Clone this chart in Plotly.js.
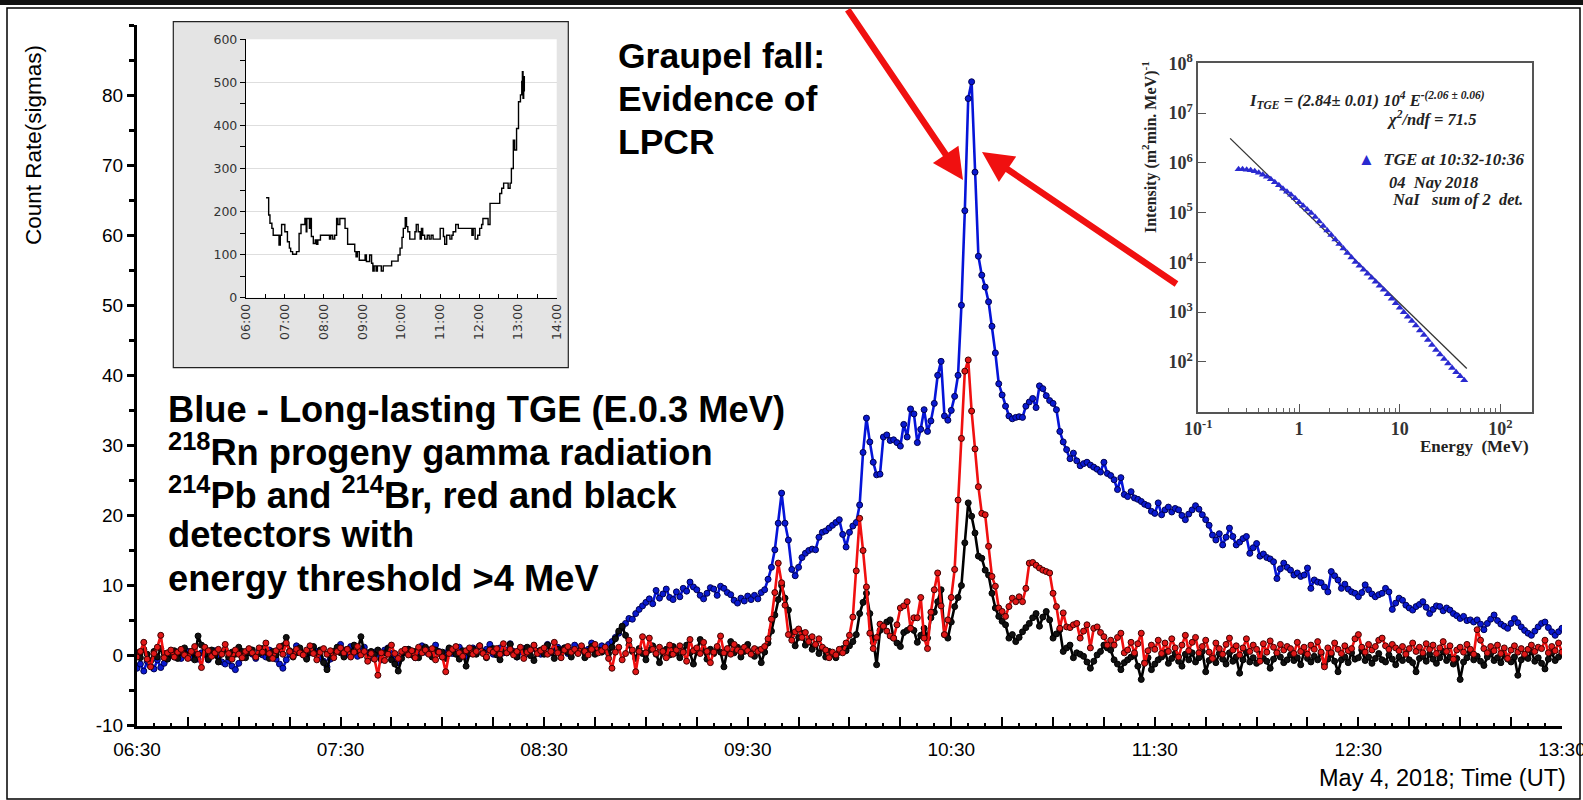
<!DOCTYPE html>
<html>
<head>
<meta charset="utf-8">
<script src="https://cdn.plot.ly/plotly-3.0.1.min.js"></script>
<style>html,body{margin:0;padding:0;background:#fff;}#chart{width:1583px;height:800px;}</style>
</head>
<body>
<div id="chart"></div>
<script>
// ---------------- main series: one value per minute from 06:30 to 13:30 (sigmas) ----------------
const blueSigma = [
-1.8,-1.2,-2.2,-0.8,-1.5,-1.9,-0.6,-1.7,-1.1,-0.4,
0.3,-0.2,0.5,-0.4,0.1,0.6,-0.3,0.2,-0.5,0.4,
0.1,-0.6,0.3,0.7,-0.2,-0.9,-1.2,-0.7,-1.5,-2.0,
-1.1,-0.3,0.4,0.9,0.2,-0.4,0.6,0.1,-0.2,0.8,
0.3,-0.5,-1.2,-1.8,-0.6,0.2,0.5,1.4,0.7,0.1,
-0.3,0.4,1.2,0.6,-0.2,-0.8,-1.6,-0.5,0.3,0.9,
1.6,0.8,0.2,1.3,0.5,-0.1,0.7,1.2,0.4,-0.3,
0.5,0.2,-0.6,0.8,1.1,0.3,-0.4,-1.0,0.2,0.6,
0.9,0.1,-0.3,0.6,1.4,0.5,0.8,0.2,1.5,0.6,
-0.2,0.4,1.0,0.3,0.7,1.2,0.5,-0.1,0.6,1.1,
0.3,1.3,0.5,0.9,1.6,0.2,0.7,1.1,0.4,0.8,
1.7,0.6,-0.2,0.5,1.0,0.3,0.8,1.4,0.6,0.2,
0.9,1.6,0.4,0.7,1.2,0.5,1.1,0.3,0.8,1.5,
0.6,1.2,0.4,0.9,1.8,1.1,0.7,1.4,0.9,1.6,
2.0,2.6,3.2,4.0,4.6,5.3,5.2,6.0,6.6,7.1,7.6,8.1,7.4,9.3,8.2,8.8,
9.5,8.3,8.0,9.1,8.4,9.6,9.2,10.5,9.8,9.4,8.6,8.1,8.9,9.7,9.5,8.6,9.9,9.6,9.0,8.7,7.9,7.5,8.2,7.8,8.5,8.0,8.6,8.1,9.0,9.4,10.9,
12.6,15.1,18.9,23.2,18.9,16.5,12.3,11.4,12.6,14.0,14.6,15.0,15.2,15.1,16.9,17.6,17.8,18.2,18.6,19.0,19.4,17.3,15.5,17.6,18.5,
19.0,21.5,29.0,33.9,30.5,27.6,25.8,25.9,31.2,31.5,
30.7,30.8,30.4,29.9,33.0,31.2,35.2,34.5,30.4,32.3,
35.1,32.0,33.5,36.0,40.0,42.0,34.2,33.6,35.0,37.0,
40.0,50.0,63.5,79.5,81.9,69.0,57.0,54.3,52.6,50.5,
47.0,43.2,38.8,37.2,35.6,34.2,33.8,34.0,34.1,34.0,
35.6,36.2,36.7,35.4,38.5,38.1,37.1,36.4,36.0,35.1,
32.0,30.5,29.4,28.1,28.9,27.8,27.1,27.4,27.6,27.2,
26.9,26.6,26.2,27.6,26.0,25.7,25.1,23.7,25.4,23.0,
22.7,23.4,22.5,22.3,22.0,21.6,21.4,20.6,20.3,21.8,
20.1,20.8,21.2,20.5,21.0,20.8,20.0,19.4,20.2,20.8,
21.4,20.9,20.1,19.4,18.6,17.2,16.5,17.4,15.8,16.9,
18.2,17.0,15.8,16.2,16.7,17.0,14.6,15.4,16.0,14.2,
14.5,14.0,13.8,13.4,11.0,12.4,13.2,12.6,12.2,11.5,
11.8,11.3,11.5,12.5,9.6,10.8,10.5,10.4,9.8,9.1,
12.0,11.4,10.8,9.6,10.2,9.5,9.1,8.9,8.4,9.0,
10.1,9.4,8.8,8.4,8.7,8.9,9.6,9.1,6.6,7.5,
8.2,7.9,7.2,6.8,6.5,7.0,7.3,7.7,6.9,6.0,
6.6,7.1,7.0,6.4,6.8,6.5,6.0,5.7,5.3,5.6,
5.0,5.1,4.8,5.1,4.5,3.7,4.6,5.2,5.8,5.0,
4.5,4.2,3.9,4.6,5.3,4.7,4.1,3.6,3.2,2.9,
3.5,4.1,4.6,4.8,4.0,3.4,2.9,3.4,3.9
];
const redSigma = [
-0.2,0.6,1.9,-0.5,-1.6,0.3,1.2,2.9,-0.3,0.4,
0.8,-0.2,0.5,0.9,0.1,-0.4,0.6,1.3,0.2,-1.7,
1.2,0.7,-0.1,0.4,0.9,0.2,1.6,0.3,-0.5,0.8,
0.2,-0.3,0.6,1.0,0.4,-0.2,1.1,0.5,1.8,0.3,
-0.4,0.7,1.3,0.2,1.8,0.6,-0.1,0.9,0.4,0.1,
0.8,1.4,0.3,-0.6,0.5,1.0,0.2,0.7,-0.3,0.6,
1.1,0.4,0.9,-0.2,0.5,1.3,0.1,0.6,-0.8,0.3,
-0.5,-2.8,0.4,-0.7,0.2,1.5,0.3,-0.4,0.6,0.9,
0.1,0.7,-0.3,1.2,0.4,0.8,0.2,1.0,-0.6,0.5,
-0.2,-2.3,0.3,0.9,1.3,0.4,-0.1,0.7,1.1,0.2,
0.6,1.4,0.3,-0.2,0.8,0.5,1.0,0.2,1.7,0.4,
0.9,0.1,0.6,1.2,-0.4,0.5,0.8,1.5,0.3,0.7,
1.1,0.2,0.6,1.9,0.4,-0.3,0.8,1.3,0.5,0.9,
0.3,1.4,0.6,0.1,0.9,1.6,0.4,0.7,1.2,-0.4,
-1.8,0.5,1.2,-0.6,0.3,2.2,0.8,-2.3,0.6,2.7,
0.4,2.5,0.9,0.3,1.2,0.6,-0.3,1.5,0.2,0.8,
1.4,0.5,-0.8,2.3,0.7,1.1,0.3,1.9,0.6,-1.0,
0.5,1.3,2.8,0.4,1.0,0.2,1.6,0.8,0.5,1.2,
0.7,0.2,1.0,0.6,0.9,1.3,2.4,5.2,9.0,13.2,
10.4,7.2,3.0,2.2,3.4,3.8,2.6,3.3,2.0,2.7,
1.6,2.4,1.2,0.8,-0.3,0.5,0.1,0.9,0.4,1.8,
2.9,5.5,12.1,19.6,15.0,9.8,3.2,1.0,2.6,4.5,
4.2,3.5,2.8,2.5,4.4,6.8,7.1,7.7,3.9,5.4,
5.4,8.3,2.5,1.0,6.2,9.4,11.8,7.1,3.0,5.1,
8.3,12.3,22.2,31.0,40.6,42.2,34.9,29.5,24.1,20.3,
20.1,15.6,11.3,9.9,6.8,6.3,5.6,7.0,8.2,7.7,
8.4,7.7,9.6,13.2,13.3,12.9,12.5,12.2,12.0,11.8,
8.9,7.0,3.9,6.1,4.1,4.0,4.4,4.6,2.5,3.5,
4.4,1.1,3.9,4.1,3.3,2.7,1.5,2.2,1.5,2.6,
3.2,0.4,0.8,1.9,0.4,1.7,3.2,-1.1,0.7,1.5,
0.9,2.2,0.3,1.8,0.6,2.4,1.1,-0.2,1.5,2.9,
0.7,1.9,2.6,0.4,1.3,2.2,0.5,-0.4,1.8,1.0,
0.2,1.6,2.5,0.8,1.4,0.1,1.1,2.4,0.6,1.5,
0.9,-0.8,1.7,0.5,2.1,1.2,0.4,1.6,0.8,1.3,
1.0,0.3,1.9,0.6,1.2,0.2,1.5,0.9,2.0,0.5,
-1.6,1.1,0.4,1.8,0.9,0.3,1.4,0.7,1.0,2.4,
3.0,1.2,0.5,1.6,0.8,1.3,2.2,2.5,1.4,0.9,
1.6,1.1,0.7,1.3,0.2,1.0,1.8,0.6,1.2,0.4,
1.7,0.9,1.5,0.3,1.1,2.0,0.6,1.4,-0.5,0.8,
1.2,0.5,1.6,0.9,0.2,3.7,2.2,1.0,0.4,1.3,
0.7,1.5,0.3,1.1,-0.4,0.8,1.4,0.5,1.0,0.2,
0.9,1.5,0.6,1.2,1.0,2.2,0.4,1.3,0.7,1.8,0.5
];
const blackSigma = [
0.4,-0.3,0.9,0.2,-0.8,0.6,-0.2,1.0,0.3,-0.5,
0.2,0.7,-0.4,0.5,1.1,0.0,0.6,-0.6,2.8,1.5,
0.3,-0.5,0.8,0.1,-0.9,0.4,0.9,-0.2,0.5,0.2,
1.2,0.6,-0.3,0.4,0.8,-0.1,0.3,1.0,0.5,-0.4,
0.6,0.1,0.9,1.4,2.6,0.7,-0.2,0.4,1.1,0.3,
-0.5,0.5,1.3,0.2,0.8,-1.0,-2.0,0.1,0.6,1.2,
0.4,-0.2,0.9,0.3,1.5,0.7,2.7,0.5,-0.3,0.6,
0.2,0.8,-0.5,0.4,1.0,-0.6,-1.2,-2.2,-0.4,0.5,
0.9,0.1,0.6,-0.3,0.7,1.2,0.4,-0.2,0.8,0.3,
0.5,-0.4,1.1,0.6,0.2,-0.5,0.7,-1.5,0.3,0.9,
0.2,1.4,0.5,-0.3,0.8,1.0,0.1,-0.6,0.7,0.4,
1.6,0.3,-0.2,0.9,0.5,1.2,0.0,-0.7,0.6,0.8,
0.2,1.5,0.6,-0.4,0.9,0.3,1.1,0.5,-0.2,0.7,
0.4,1.0,-0.3,0.6,1.3,0.2,0.8,0.5,0.9,0.3,
1.2,2.4,3.5,4.2,2.9,1.5,0.6,-0.4,1.0,0.3,
-0.6,0.8,1.4,0.2,-1.0,0.5,0.9,0.1,1.3,0.4,
-0.3,0.7,1.5,0.4,-1.2,0.6,2.3,0.8,-0.5,0.9,
0.3,1.1,0.5,-1.6,0.7,2.0,0.4,1.2,-0.2,0.6,
1.6,0.3,-0.1,0.8,-1.0,0.5,1.8,3.5,5.8,8.0,
10.0,8.2,6.5,3.0,1.4,2.6,3.2,1.5,2.4,0.9,
1.6,0.3,1.1,-0.2,0.6,0.2,-0.3,0.5,1.0,0.7,
1.4,2.0,3.0,6.0,7.6,8.9,6.0,1.9,-1.3,3.6,
4.2,4.8,5.1,2.5,1.8,1.3,3.3,3.6,3.9,3.6,
1.9,2.9,3.9,2.5,5.4,6.2,7.7,9.4,3.0,2.5,
4.8,7.0,8.3,10.0,16.1,21.8,19.9,17.5,14.2,13.9,
12.2,11.5,8.9,6.8,5.6,4.9,4.4,2.5,3.0,2.0,
2.6,3.4,4.0,4.6,5.4,6.0,4.2,5.5,6.3,5.1,
2.5,3.1,3.7,0.6,1.1,1.5,-0.3,0.4,0.2,-0.1,
-0.9,-1.8,-0.8,0.1,0.6,1.5,1.1,0.8,-0.6,-1.2,
-2.0,-1.0,-0.6,-0.2,0.1,-1.5,-3.4,-1.0,-0.3,-2.0,
-1.2,-0.6,-0.2,0.5,-1.1,-0.4,0.3,-0.8,-1.5,0.2,
-0.6,0.4,-0.9,-0.3,0.6,-2.3,-0.7,-0.1,-1.0,0.3,
-0.5,-1.2,0.4,-0.8,-0.2,-2.5,-0.6,0.5,-0.9,-0.3,
-1.1,0.2,-0.4,-0.8,-1.8,-0.5,0.4,-0.2,-1.0,-0.6,
0.1,-0.7,-0.3,-1.3,0.5,-0.4,-0.9,-0.1,-0.6,0.3,
-1.2,-0.5,0.2,-0.8,-2.3,-0.6,-0.2,-1.0,0.4,-0.5,
-0.3,0.8,-0.7,-0.2,-1.1,-0.4,0.3,-0.6,-0.9,0.1,
-0.5,-1.3,-0.2,-0.7,0.4,-0.6,-1.0,-2.3,-0.4,-0.1,
-0.8,0.2,-0.5,-1.1,-0.3,0.6,-0.7,-0.2,-1.2,-0.4,
-3.4,-0.9,-0.3,0.5,-0.6,-0.1,-0.8,-1.4,-0.2,0.3,
-0.7,-0.3,-1.0,0.2,-0.5,-0.9,-0.2,-2.8,-0.6,-0.1,
-0.4,0.6,-0.8,-0.3,-1.1,-1.9,-0.5,0.4,-0.7,-0.2,0.3
];
const dayPrefix = '2018-05-04 ';
const startMinuteOfDay = 6 * 60 + 30; // series starts 06:30, 1-minute sampling
const xTickLabels = ['06:30','07:30','08:30','09:30','10:30','11:30','12:30','13:30'];
const yTickVals = [-10,0,10,20,30,40,50,60,70,80];
const yTickText = ['-10','0','10','20','30','40','50','60','70','80'];

// ---------------- top-left inset (count rate step line) ----------------
const insetTimes = ['06:31','06:35','06:37','06:40','06:42','06:48','06:51','06:53','06:55','06:58','07:00','07:04','07:07','07:09','07:12','07:18','07:22','07:25','07:28','07:31','07:33','07:34','07:36','07:38','07:39','07:41','07:44','07:47','07:49','07:51','07:55','08:07','08:09','08:11','08:14','08:17','08:20','08:22','08:25','08:30','08:33','08:37','08:45','08:48','08:50','08:52','08:55','09:01','09:04','09:06','09:11','09:14','09:16','09:18','09:21','09:23','09:29','09:32','09:41','09:45','09:52','09:55','09:58','10:01','10:03','10:06','10:08','10:10','10:13','10:19','10:21','10:23','10:26','10:29','10:31','10:33','10:36','10:40','10:43','10:46','10:49','10:55','11:00','11:03','11:05','11:07','11:10','11:15','11:18','11:20','11:24','11:28','11:46','11:49','11:51','11:54','11:58','12:01','12:04','12:06','12:12','12:14','12:17','12:30','12:32','12:35','12:38','12:43','12:45','12:48','12:50','12:53','12:55','12:58','13:01','13:04','13:06','13:07','13:08','13:09','13:10'];
const insetCounts = [232,192,173,161,145,145,122,145,170,170,153,130,115,107,101,107,149,170,170,184,153,184,184,161,184,142,126,134,124,134,145,145,136,145,136,145,184,170,184,184,161,124,124,107,95,107,87,87,99,84,99,80,62,74,62,74,62,74,74,85,85,99,115,140,161,186,165,153,136,136,153,170,153,136,161,145,136,145,136,145,136,136,161,161,142,124,145,136,145,153,170,161,161,145,161,136,145,161,170,184,184,170,219,219,242,254,266,266,254,266,300,366,343,393,455,471,502,525,463,513,479];
const insetTickLabels = ['06:00','07:00','08:00','09:00','10:00','11:00','12:00','13:00','14:00'];

// ---------------- right inset (energy spectrum, log-log) ----------------
const specEnergy = [0.251,0.275,0.302,0.331,0.363,0.398,0.437,0.479,0.525,0.575,0.631,0.692,0.759,0.832,0.912,1.0,1.096,1.202,1.318,1.445,1.585,1.738,1.905,2.089,2.291,2.512,2.754,3.020,3.311,3.631,3.981,4.365,4.786,5.248,5.754,6.310,6.918,7.586,8.318,9.120,10.0,10.96,12.02,13.18,14.45,15.85,17.38,19.05,20.89,22.91,25.12,27.54,30.20,33.11,36.31,39.81,43.65];
const specIntensity = [7.41e5,7.41e5,7.24e5,7.08e5,6.76e5,6.31e5,5.75e5,5.25e5,4.68e5,4.07e5,3.55e5,3.02e5,2.63e5,2.29e5,1.95e5,1.62e5,1.38e5,1.15e5,9.77e4,8.13e4,6.61e4,5.37e4,4.37e4,3.55e4,2.88e4,2.34e4,1.91e4,1.55e4,1.26e4,1.02e4,8.51e3,7.08e3,5.89e3,4.90e3,4.07e3,3.39e3,2.82e3,2.29e3,1.86e3,1.51e3,1.23e3,1.00e3,813,661,537,427,347,275,219,174,141,115,93.3,75.9,61.7,51.3,42.7];
const fitEnergy = [0.207,46.3];
const fitIntensity = [3.1e6,74];
const specXTickVals = [0.1,1,10,100];
const specXTickText = ['10<sup>-1</sup>','1','10','10<sup>2</sup>'];
const specYTickVals = [1e2,1e3,1e4,1e5,1e6,1e7,1e8];
const specYTickText = ['10<sup>2</sup>','10<sup>3</sup>','10<sup>4</sup>','10<sup>5</sup>','10<sup>6</sup>','10<sup>7</sup>','10<sup>8</sup>'];

// ---------------- build ----------------
function pad(n){ return String(n).padStart(2,'0'); }
function stampFromMinute(idx){
  const t = startMinuteOfDay + idx;
  return dayPrefix + pad(Math.floor(t/60)) + ':' + pad(t % 60);
}
const times = blueSigma.map((_, i) => stampFromMinute(i));

// main x ticks every 15 minutes; labels on the half hours
const xTickVals = [], xTickText = [];
for (let t = startMinuteOfDay; t <= 13*60+30; t += 15) {
  const s = pad(Math.floor(t/60)) + ':' + pad(t % 60);
  xTickVals.push(dayPrefix + s);
  xTickText.push(xTickLabels.includes(s) ? s : '');
}

const W = 1583, H = 800;
const px = v => v / W;
const py = v => 1 - v / H;

const traces = [
  {x: times, y: blueSigma, type:'scatter', mode:'lines+markers', xaxis:'x', yaxis:'y',
   line:{color:'#0514d8', width:2.6}, marker:{size:6, color:'#0a1ad0', line:{color:'#000050', width:1}}},
  {x: times, y: blackSigma, type:'scatter', mode:'lines+markers', xaxis:'x', yaxis:'y',
   line:{color:'#000000', width:2.6}, marker:{size:6, color:'#111111', line:{color:'#000', width:1}}},
  {x: times, y: redSigma, type:'scatter', mode:'lines+markers', xaxis:'x', yaxis:'y',
   line:{color:'#f01010', width:2.6}, marker:{size:6, color:'#e01818', line:{color:'#400000', width:1}}},
  {x: insetTimes.map(t => dayPrefix + t), y: insetCounts, type:'scatter', mode:'lines', xaxis:'x2', yaxis:'y2',
   line:{color:'#000', width:1.4, shape:'hv'}},
  {x: fitEnergy, y: fitIntensity, type:'scatter', mode:'lines', xaxis:'x3', yaxis:'y3',
   line:{color:'#333', width:1.3}},
  {x: specEnergy, y: specIntensity, type:'scatter', mode:'markers', xaxis:'x3', yaxis:'y3',
   marker:{symbol:'triangle-up', size:7, color:'#2a2ad0'}}
];

const serif = 'Liberation Serif, Times New Roman, serif';
const sans = 'Liberation Sans, Arial, sans-serif';

const layout = {
  width: W, height: H,
  margin:{l:0,r:0,t:0,b:0},
  paper_bgcolor:'#ffffff', plot_bgcolor:'rgba(0,0,0,0)',
  showlegend:false,
  font:{family:sans, color:'#000'},
  xaxis:{
    domain:[px(137), px(1562)], anchor:'y', type:'date',
    range:[dayPrefix+'06:30', dayPrefix+'13:30:01'],
    tickmode:'array', tickvals:xTickVals, ticktext:xTickText,
    ticks:'inside', ticklen:9, tickwidth:2, tickcolor:'#000',
    minor:{dtick:300000, tick0:dayPrefix+'06:30', ticks:'inside', ticklen:3, tickwidth:2, tickcolor:'#000', showgrid:false},
    showline:true, linewidth:3, linecolor:'#000', showgrid:false, zeroline:false,
    tickfont:{family:sans, size:19, color:'#000'}, ticklabelstandoff:4, ticklabeloverflow:'allow'
  },
  yaxis:{
    domain:[py(725.7), py(25)], anchor:'x', range:[-10, 90],
    tickmode:'array', tickvals:yTickVals, ticktext:yTickText,
    ticks:'outside', ticklen:7, tickwidth:3, tickcolor:'#000',
    minor:{dtick:5, ticks:'outside', ticklen:5, tickwidth:3, tickcolor:'#000', showgrid:false},
    showline:true, linewidth:3, linecolor:'#000', showgrid:false, zeroline:false,
    tickfont:{family:sans, size:19, color:'#000'}
  },
  xaxis2:{
    domain:[px(246), px(556.7)], anchor:'y2', type:'date',
    range:[dayPrefix+'06:00', dayPrefix+'14:00'],
    tickmode:'array', tickvals:insetTickLabels.map(t => dayPrefix + t), ticktext:insetTickLabels,
    tickangle:-90, ticks:'inside', ticklen:4, tickcolor:'#000',
    minor:{dtick:1800000, tick0:dayPrefix+'06:00', ticks:'inside', ticklen:4, tickcolor:'#000', showgrid:false},
    showline:true, linewidth:1.2, linecolor:'#000', showgrid:false, zeroline:false,
    tickfont:{family:'DejaVu Sans, sans-serif', size:12.5, color:'#333'}
  },
  yaxis2:{
    domain:[py(297.7), py(39.3)], anchor:'x2', range:[0, 600], dtick:100,
    ticks:'outside', ticklen:5, tickcolor:'#000',
    minor:{dtick:50, ticks:'outside', ticklen:5, tickcolor:'#000', showgrid:false},
    showline:true, linewidth:1.2, linecolor:'#000', showgrid:true, gridcolor:'#dedede', gridwidth:1.5, zeroline:false,
    tickfont:{family:'DejaVu Sans, sans-serif', size:12.5, color:'#333'}
  },
  xaxis3:{
    domain:[px(1198.3), px(1531.7)], anchor:'y3', type:'log', range:[-1, 2.31],
    tickmode:'array', tickvals:specXTickVals, ticktext:specXTickText,
    ticks:'inside', ticklen:8, tickcolor:'#555',
    minor:{dtick:'D1', ticks:'inside', ticklen:4, tickcolor:'#666', showgrid:false},
    showline:true, mirror:true, linewidth:2, linecolor:'#555', showgrid:false, zeroline:false,
    tickfont:{family:serif, size:18, color:'#333', weight:'bold'}
  },
  yaxis3:{
    domain:[py(411.7), py(63.3)], anchor:'x3', type:'log', range:[1, 8],
    tickmode:'array', tickvals:specYTickVals, ticktext:specYTickText,
    ticks:'inside', ticklen:8, tickcolor:'#555',
    showline:true, mirror:true, linewidth:2, linecolor:'#555', showgrid:false, zeroline:false,
    tickfont:{family:serif, size:18, color:'#333', weight:'bold'}
  },
  shapes:[
    {type:'rect', xref:'paper', yref:'paper', x0:0, x1:1, y0:py(5), y1:1, fillcolor:'#111', line:{width:0}, layer:'below'},
    {type:'rect', xref:'paper', yref:'paper', x0:px(7), x1:px(1580), y0:py(799), y1:py(8), fillcolor:'rgba(0,0,0,0)', line:{color:'#000', width:1.5}, layer:'below'},
    {type:'rect', xref:'paper', yref:'paper', x0:px(173.3), x1:px(568.3), y0:py(367.7), y1:py(21.7), fillcolor:'#e4e4e4', line:{color:'#222', width:1.2}, layer:'below'},
    {type:'rect', xref:'paper', yref:'paper', x0:px(246), x1:px(556.7), y0:py(297.7), y1:py(39.3), fillcolor:'#ffffff', line:{width:0}, layer:'below'}
  ],
  annotations:[]
};

const A = layout.annotations;
function txt(x, y, text, opts){
  A.push(Object.assign({xref:'paper', yref:'paper', x:px(x), y:py(y), text:text, showarrow:false, xanchor:'left', yanchor:'middle'}, opts||{}));
}
// axis titles
txt(33, 145, 'Count Rate(sigmas)', {xanchor:'center', textangle:-90, font:{family:sans, size:22.5, color:'#000'}});
txt(1568, 778, 'May 4, 2018; Time (UT)', {xanchor:'right', font:{family:sans, size:23.5, color:'#000'}});
// big explanatory text
const bigFont = {family:sans, size:36.3, color:'#000', weight:'bold'};
txt(166, 409, 'Blue - Long-lasting TGE (E.0.3 MeV)', {font:bigFont});
txt(166, 450, '<sup>218</sup>Rn progeny gamma radiation', {font:bigFont});
txt(166, 493, '<sup>214</sup>Pb and <sup>214</sup>Br, red and black', {font:bigFont});
txt(166, 534, 'detectors with', {font:bigFont});
txt(166, 578, 'energy threshold >4 MeV', {font:bigFont});
const gFont = {family:sans, size:35.5, color:'#000', weight:'bold'};
txt(616, 56, 'Graupel fall:', {font:gFont});
txt(616, 99, 'Evidence of', {font:gFont});
txt(616, 142, 'LPCR', {font:gFont});
// arrows
A.push({xref:'paper', yref:'paper', x:px(963), y:py(180), ax:846.7-963, ay:8.3-180, text:'', showarrow:true,
  arrowcolor:'#f01010', arrowwidth:6.5, arrowhead:2, arrowsize:0.95, standoff:0});
A.push({xref:'paper', yref:'paper', x:px(982), y:py(152), ax:1178-982, ay:285-152, text:'', showarrow:true,
  arrowcolor:'#f01010', arrowwidth:6.5, arrowhead:2, arrowsize:0.95, standoff:0});
// spectrum inset texts
const sf = (size, extra) => Object.assign({family:serif, size:size, color:'#222', weight:'bold'}, extra||{});
txt(1150, 147, 'Intensity (m<sup>2</sup>min. MeV)<sup>-1</sup>', {xanchor:'center', textangle:-90, font:sf(16)});
txt(1531, 446, 'Energy  (MeV)', {xanchor:'right', font:sf(17)});
txt(1247, 100, '<i>I<sub>TGE</sub> = (2.84± 0.01) 10<sup>4</sup> E<sup>-(2.06 ± 0.06)</sup></i>', {font:sf(16.5)});
txt(1385, 119, '<i>χ<sup>2</sup>/ndf = 71.5</i>', {font:sf(16.5)});
txt(1356, 160, '<span style="color:#2a2ad0">▲</span>  <i>TGE at 10:32-10:36</i>', {font:sf(17)});
txt(1387, 182, '<i>04  Nay 2018</i>', {font:sf(16.5)});
txt(1390, 199, '<i>NaI   sum of 2  det.</i>', {font:sf(16.5)});

Plotly.newPlot('chart', traces, layout, {staticPlot:true, displayModeBar:false});
</script>
</body>
</html>
